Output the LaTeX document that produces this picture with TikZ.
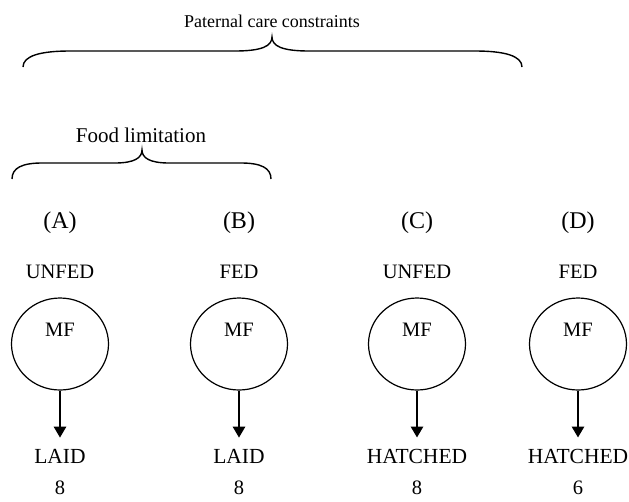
\documentclass[tikz,border=0pt]{standalone}
\usepackage{fontspec}
\setmainfont{Liberation Serif}
\usetikzlibrary{arrows.meta,shapes.geometric}
\begin{document}
\begin{tikzpicture}[x=1pt,y=-1pt,
  brace/.style={line width=1.4pt},
  mfcirc/.style={draw,line width=1.2pt,ellipse,minimum width=97pt,minimum height=92pt,inner sep=0pt},
  lab/.style={font=\fontsize{20.5}{22}\selectfont,inner sep=0pt,anchor=center},
  arr/.style={line width=2.6pt,-{Triangle[width=12pt,length=11pt]},shorten >=11pt}
]
\useasboundingbox (0,0) rectangle (629,501);
% big brace
\node[font=\fontsize{18}{20}\selectfont,inner sep=0pt] (pc) at (272,21) {Paternal care constraints};
\draw[brace] (23,67) .. controls (23,56) and (40,51) .. (70,51) -- (235,51)
  .. controls (262,51) and (272,46) .. (272,37)
  .. controls (272,46) and (282,51) .. (309,51) -- (475,51)
  .. controls (505,51) and (522,56) .. (522,67);
% small brace
\node[font=\fontsize{21}{23}\selectfont,inner sep=0pt] (fl) at (141,135) {Food limitation};
\draw[brace] (12,179) .. controls (12,168) and (22,163) .. (42,163) -- (115,163)
  .. controls (134,163) and (142,158) .. (142,150)
  .. controls (142,158) and (150,163) .. (169,163) -- (241,163)
  .. controls (261,163) and (271,168) .. (271,179);
% columns
\foreach \n/\x/\lt/\ct/\bt/\num in {A/60/(A)/UNFED/LAID/8, B/239/(B)/FED/LAID/8, C/417/(C)/UNFED/HATCHED/8, D/578/(D)/FED/HATCHED/6}{
  \node[lab,font=\fontsize{24}{26}\selectfont] (t\n) at (\x,223) {\lt};
  \node[lab] (f\n) at (\x,272) {\ct};
  \node[mfcirc] (c\n) at (\x,344) {};
  \node[lab] (m\n) at (\x,330) {MF};
  \node[lab,font=\fontsize{21.5}{23}\selectfont] (o\n) at (\x,456) {\bt};
  \node[lab] (n\n) at (\x,488) {\num};
  \draw[arr] (c\n.south) -- (o\n.north);
}
\end{tikzpicture}
\end{document}
